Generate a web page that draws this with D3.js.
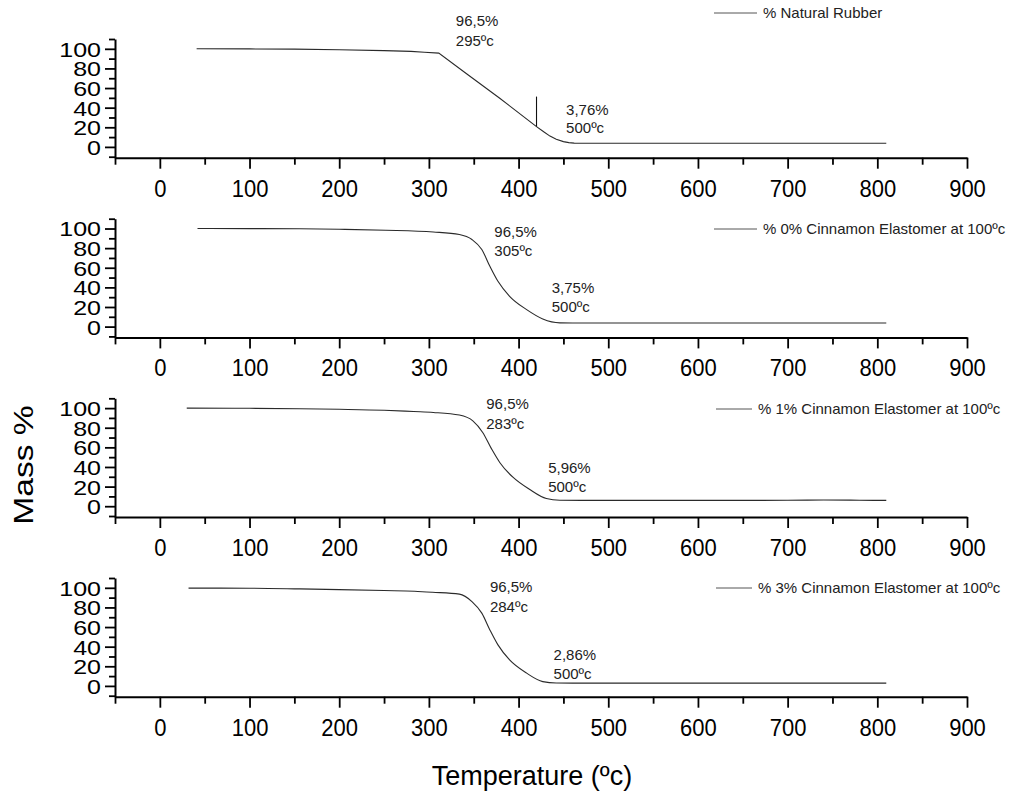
<!DOCTYPE html>
<html>
<head>
<meta charset="utf-8">
<script src="https://cdn.jsdelivr.net/npm/d3@7"></script>
<style>
  html, body { margin: 0; padding: 0; background: #fff; }
  svg { display: block; font-family: "Liberation Sans", Arial, sans-serif; }
</style>
</head>
<body>
<svg id="chart" width="1014" height="791"></svg>
<script>
// TGA curves: temperature (ºc) vs residual mass (%)
const seriesNames = [
  "% Natural Rubber",
  "% 0% Cinnamon Elastomer at 100ºc",
  "% 1% Cinnamon Elastomer at 100ºc",
  "% 3% Cinnamon Elastomer at 100ºc"
];

const rubberTemp = [41, 100, 150, 200, 250, 280, 295, 311, 342, 379, 420, 428, 435, 442, 450, 456, 462, 470, 500, 600, 700, 810];
const rubberMass = [100, 99.9, 99.7, 99.0, 98.2, 97.4, 96.5, 95.6, 74.6, 49.6, 20.7, 15.4, 11.0, 7.9, 5.4, 4.4, 3.9, 3.78, 3.76, 3.7, 3.7, 3.7];

const cin0Temp = [42, 100, 156, 200, 252, 305, 334, 348, 359, 368, 377, 390, 409, 427, 446, 460, 500, 600, 700, 810];
const cin0Mass = [100, 99.9, 99.7, 99.2, 98.3, 96.5, 93.9, 88.8, 78.6, 61.5, 46.2, 30.9, 17.3, 7.8, 3.85, 3.75, 3.75, 3.7, 3.7, 3.7];

const cin1Temp = [30, 100, 156, 200, 250, 283, 305, 334, 349, 360, 370, 379, 394, 412, 431, 446, 470, 500, 600, 700, 740, 780, 810];
const cin1Mass = [100, 99.8, 99.4, 98.8, 97.8, 96.5, 95.6, 92.9, 87.0, 75.2, 58.2, 44.6, 29.3, 17.3, 7.8, 6.1, 5.96, 5.96, 5.9, 6.0, 6.3, 6.1, 5.9];

const cin3Temp = [32, 100, 156, 200, 250, 284, 304, 334, 348, 359, 368, 377, 390, 409, 427, 442, 460, 500, 600, 700, 810];
const cin3Mass = [99.7, 99.6, 98.9, 98.2, 97.2, 96.5, 95.5, 93.6, 86.0, 74.2, 57.1, 41.8, 26.5, 13.0, 4.4, 2.95, 2.86, 2.86, 2.8, 2.85, 2.85];

// onset / residue annotations per panel
const onsetMass = ["96,5%", "96,5%", "96,5%", "96,5%"];
const onsetTemp = ["295ºc", "305ºc", "283ºc", "284ºc"];
const residueMass = ["3,76%", "3,75%", "5,96%", "2,86%"];
const residueTemp = ["500ºc", "500ºc", "500ºc", "500ºc"];

// marker segment on the natural rubber curve
const markerTemp = 420;
const markerMass = [20.7, 51.3];

const xMajorTicks = [0, 100, 200, 300, 400, 500, 600, 700, 800, 900];
const xMinorTicks = [-50, 50, 150, 250, 350, 450, 550, 650, 750, 850];
const yMajorTicks = [0, 20, 40, 60, 80, 100];
const yMinorTicks = [-10, 10, 30, 50, 70, 90, 110];

const series = [
  { temp: rubberTemp, mass: rubberMass, curve: d3.curveLinear },
  { temp: cin0Temp, mass: cin0Mass, curve: d3.curveMonotoneX },
  { temp: cin1Temp, mass: cin1Mass, curve: d3.curveMonotoneX },
  { temp: cin3Temp, mass: cin3Mass, curve: d3.curveMonotoneX }
];

// layout of each stacked panel
const panelTop = [39, 218.7, 398.3, 578];
const panelHeight = 118.7;
// annotation anchors in data units: [x, y of first line, y of second line]
const onsetAnchor = [[330, 123.3, 102.9], [373, 91.3, 72.3], [364, 99.1, 78.7], [368, 95.4, 75.6]];
const residueAnchor = [[453, 32.5, 13.9], [437, 34, 15.2], [433, 33.5, 14.8], [439, 26.4, 6.7]];
const legendLine = [[714, 757], [714, 757], [716, 752], [716, 752]];
const legendY = [13, 229, 409, 588];

const svg = d3.select("#chart");
svg.append("rect").attr("width", 1014).attr("height", 791).attr("fill", "#fff");

const x = d3.scaleLinear().domain([-50, 900]).range([115, 967]);

series.forEach((s, i) => {
  const top = panelTop[i];
  const y = d3.scaleLinear().domain([-11, 110]).range([top + panelHeight, top]);
  const g = svg.append("g");

  // x axis: minor then major ticks
  const xAxisG = g.append("g").attr("transform", `translate(0,${top + panelHeight})`);
  xAxisG.append("g")
    .call(d3.axisBottom(x).tickValues(xMinorTicks).tickSize(7).tickSizeOuter(0).tickFormat(""))
    .call(a => a.select(".domain").remove());
  const xMaj = xAxisG.append("g")
    .call(d3.axisBottom(x).tickValues(xMajorTicks).tickSize(11).tickSizeOuter(0).tickFormat(d3.format("d")));
  xMaj.selectAll("text")
    .attr("y", 35.5).attr("dy", 0)
    .attr("transform", "scale(1,1.1)")
    .attr("font-size", 22).attr("fill", "#000")
    .attr("font-family", "'Liberation Sans', Arial, sans-serif");

  // y axis: minor then major ticks
  const yAxisG = g.append("g").attr("transform", `translate(${x(-50)},0)`);
  yAxisG.append("g")
    .call(d3.axisLeft(y).tickValues(yMinorTicks).tickSize(6).tickSizeOuter(0).tickFormat(""))
    .call(a => a.select(".domain").remove());
  const yMaj = yAxisG.append("g")
    .call(d3.axisLeft(y).tickValues(yMajorTicks).tickSize(10).tickSizeOuter(0).tickFormat(d3.format("d")));
  yMaj.selectAll("text")
    .attr("x", -11.2).attr("dy", "0.36em")
    .attr("transform", "scale(1.25,1.03)")
    .attr("font-size", 20).attr("fill", "#000")
    .attr("font-family", "'Liberation Sans', Arial, sans-serif");

  g.selectAll(".domain").attr("stroke", "#000").attr("stroke-width", 2);
  g.selectAll(".tick line").attr("stroke", "#000").attr("stroke-width", 1.8);

  // TGA curve
  const line = d3.line()
    .x((d, k) => x(s.temp[k]))
    .y((d, k) => y(s.mass[k]))
    .curve(s.curve);
  g.append("path")
    .attr("d", line(s.temp))
    .attr("fill", "none")
    .attr("stroke", "#2a2a2a")
    .attr("stroke-width", 1.1);

  if (i === 0) {
    g.append("line")
      .attr("x1", x(markerTemp)).attr("x2", x(markerTemp))
      .attr("y1", y(markerMass[0])).attr("y2", y(markerMass[1]))
      .attr("stroke", "#111").attr("stroke-width", 1.1);
  }

  // annotations
  const annot = g.append("g").attr("font-size", 15).attr("fill", "#222");
  const oa = onsetAnchor[i];
  annot.append("text").attr("x", x(oa[0])).attr("y", y(oa[1])).text(onsetMass[i]);
  annot.append("text").attr("x", x(oa[0])).attr("y", y(oa[2])).text(onsetTemp[i]);
  const ra = residueAnchor[i];
  annot.append("text").attr("x", x(ra[0])).attr("y", y(ra[1])).text(residueMass[i]);
  annot.append("text").attr("x", x(ra[0])).attr("y", y(ra[2])).text(residueTemp[i]);

  // legend
  const lg = g.append("g");
  lg.append("line")
    .attr("x1", legendLine[i][0]).attr("x2", legendLine[i][1])
    .attr("y1", legendY[i]).attr("y2", legendY[i])
    .attr("stroke", "#555").attr("stroke-width", 1);
  lg.append("text")
    .attr("x", legendLine[i][1] + 6).attr("y", legendY[i]).attr("dy", "0.35em")
    .attr("font-size", 15).attr("fill", "#222")
    .text(seriesNames[i]);
});

// axis titles
svg.append("text")
  .attr("transform", "translate(33,465) rotate(-90) scale(1.2,1)")
  .attr("text-anchor", "middle")
  .attr("font-size", 28).attr("fill", "#000")
  .text("Mass %");

svg.append("text")
  .attr("x", 532).attr("y", 785)
  .attr("text-anchor", "middle")
  .attr("font-size", 27).attr("fill", "#000")
  .text("Temperature (ºc)");
</script>
</body>
</html>
